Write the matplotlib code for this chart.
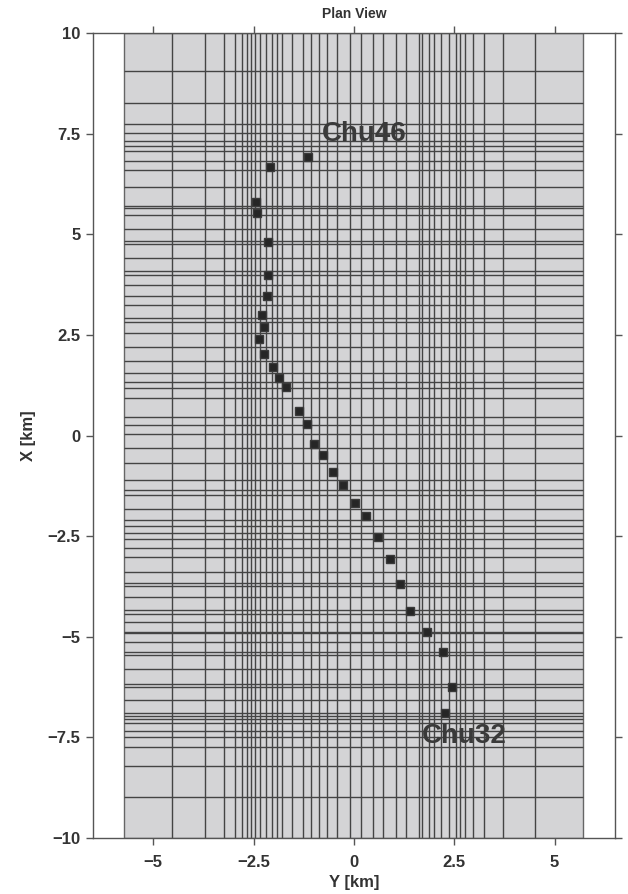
import matplotlib.pyplot as plt
from matplotlib.patches import Rectangle

plt.rcParams['font.family'] = ['Liberation Sans', 'DejaVu Sans']
plt.rcParams['font.weight'] = 'bold'

# model block extent (km)
box_y = 5.72
box_x = 10.0

# mesh lines along Y (vertical) and X (horizontal)
mesh_y = [-4.52, -3.71, -3.24, -2.97, -2.78, -2.65, -2.56, -2.47, -2.35, -2.20,
          -2.04, -1.92, -1.80, -1.55, -1.26, -1.07, -0.87, -0.68, -0.41, -0.10,
          0.17, 0.47, 0.73, 1.04, 1.29, 1.62, 1.70, 1.87, 2.00, 2.18, 2.37, 2.54,
          2.65, 2.78, 2.97, 3.24, 3.71, 4.52]
mesh_x = [9.06, 8.25, 7.75, 7.52, 7.32, 7.19, 7.07, 6.81, 6.59, 6.18, 5.70, 5.65,
          5.48, 5.13, 4.82, 4.77, 4.42, 4.08, 3.98, 3.74, 3.46, 3.25, 2.91, 2.83,
          2.55, 2.20, 1.86, 1.56, 1.34, 1.18, 0.93, 0.45, 0.27, 0.03,
          -0.32, -0.69, -1.10, -1.35, -1.47, -1.82, -2.09, -2.26, -2.43, -2.57,
          -2.80, -3.03, -3.40, -3.67, -3.73, -4.02, -4.34, -4.44, -4.64, -4.87,
          -4.91, -5.13, -5.37, -5.45, -5.80, -6.18, -6.26, -6.57, -6.90, -6.96,
          -7.04, -7.13, -7.33, -7.50, -7.73, -8.22, -8.97]

# station positions
sta_y = [-1.14, -2.08, -2.44, -2.41, -2.13, -2.13, -2.17, -2.30, -2.25, -2.37,
         -2.25, -2.01, -1.87, -1.70, -1.37, -1.17, -1.00, -0.77, -0.53, -0.26,
         0.03, 0.31, 0.60, 0.90, 1.14, 1.41, 1.82, 2.21, 2.45, 2.27]
sta_x = [6.91, 6.68, 5.79, 5.52, 4.80, 4.00, 3.46, 3.00, 2.70, 2.40,
         2.03, 1.70, 1.43, 1.20, 0.60, 0.29, -0.21, -0.48, -0.91, -1.24,
         -1.68, -2.01, -2.52, -3.06, -3.69, -4.36, -4.89, -5.37, -6.24, -6.90]

labels = [('Chu46', -0.80, 7.48), ('Chu32', 1.69, -7.47)]

fig = plt.figure(figsize=(6.28, 8.94), dpi=100)
ax = fig.add_axes([0.148, 0.0626, 0.831, 0.9005])

ax.add_patch(Rectangle((-box_y, -box_x), 2 * box_y, 2 * box_x,
                       facecolor='#d4d4d6', edgecolor='#666666', lw=1, zorder=1))
ax.vlines(mesh_y, -box_x, box_x, colors='#444444', lw=1, zorder=2)
ax.hlines(mesh_x, -box_y, box_y, colors='#444444', lw=1, zorder=2)

ax.plot(sta_y, sta_x, 's', color='#262626', ms=5.5, mec='#3a3a3a', zorder=3)
for name, yy, xx in labels:
    ax.text(yy, xx, name, fontsize=20, fontweight='bold', color='#3a3a3a',
            ha='left', va='center', zorder=4)

ax.set_xlim(-6.5, 6.5)
ax.set_ylim(-10, 10)
ax.set_xticks([-5, -2.5, 0, 2.5, 5])
ax.set_xticklabels(['\u22125', '\u22122.5', '0', '2.5', '5'])
ax.set_yticks([-10, -7.5, -5, -2.5, 0, 2.5, 5, 7.5, 10])
ax.set_yticklabels(['\u221210', '\u22127.5', '\u22125', '\u22122.5', '0', '2.5', '5', '7.5', '10'])
ax.tick_params(direction='out', length=5, width=1, color='#555555',
               labelsize=12, labelcolor='#333333', top=True, right=True)
ax.tick_params(axis='x', pad=7)
ax.tick_params(axis='y', pad=4)
for s in ax.spines.values():
    s.set_color('#555555')
    s.set_linewidth(1)

ax.set_xlabel('Y [km]', fontsize=12, fontweight='bold', color='#333333', labelpad=4)
ax.set_ylabel('X [km]', fontsize=12, fontweight='bold', color='#333333', labelpad=8)
ax.set_title('Plan View', fontsize=10, fontweight='bold', color='#333333', pad=11)

fig.savefig('out.png', dpi=100)
